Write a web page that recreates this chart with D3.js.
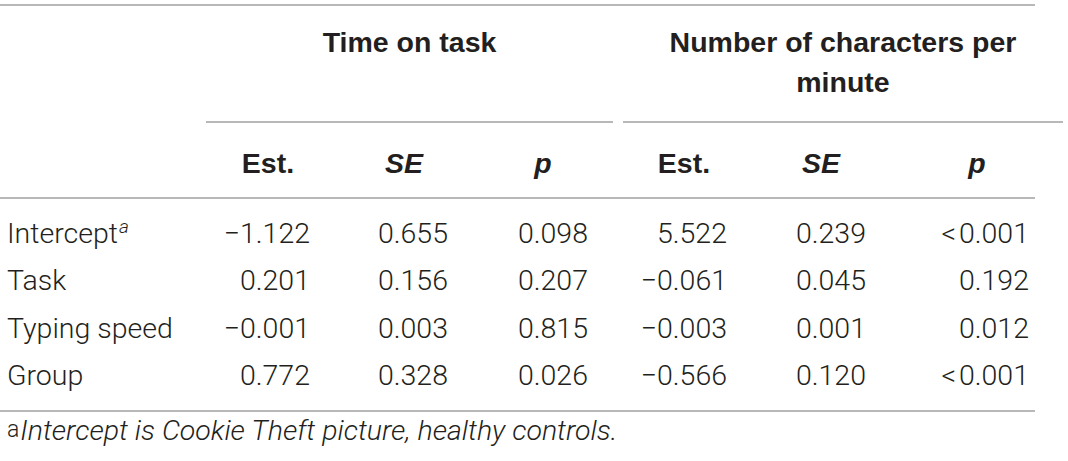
<!DOCTYPE html>
<html>
<head>
<meta charset="utf-8">
<script src="https://cdn.jsdelivr.net/npm/d3@7"></script>
<style>
    html, body { margin: 0; padding: 0; background: #fff; }
    svg { display: block; }
</style>
</head>
<body>
<svg id="tbl"></svg>
<script>
    // table content
    var predictors = ["Intercept", "Task", "Typing speed", "Group"];
    var groups = ["Time on task", "Number of characters per minute"];
    var stats = ["Est.", "SE", "p"];
    var timeEst = [-1.122, 0.201, -0.001, 0.772];
    var timeSE = [0.655, 0.156, 0.003, 0.328];
    var timeP = ["0.098", "0.207", "0.815", "0.026"];
    var cpmEst = [5.522, -0.061, -0.003, -0.566];
    var cpmSE = [0.239, 0.045, 0.001, 0.120];
    var cpmP = ["<0.001", "0.192", "0.012", "<0.001"];
    var noteMark = "a";
    var footnote = "Intercept is Cookie Theft picture, healthy controls.";

    var width = 1068, height = 461;
    var lightFont = "Roboto, 'Liberation Sans', Arial, sans-serif";
    var boldFont = "'Liberation Sans', Arial, sans-serif";
    var ink = "#231f20";
    var ruleColor = "#a0a0a0";
    var fontSize = 28.5;

    var fmt = d3.format(".3f");
    function pLabel(s) {
        // small gap after the "<" sign, like the typeset original
        return s.charAt(0) === "<" ? "<\u200a" + s.slice(1) : s;
    }

    var columns = [
        { group: 0, stat: 0, values: timeEst.map(fmt) },
        { group: 0, stat: 1, values: timeSE.map(fmt) },
        { group: 0, stat: 2, values: timeP.map(pLabel) },
        { group: 1, stat: 0, values: cpmEst.map(fmt) },
        { group: 1, stat: 1, values: cpmSE.map(fmt) },
        { group: 1, stat: 2, values: cpmP.map(pLabel) }
    ];

    // layout
    var headX = d3.scaleOrdinal().domain(d3.range(6)).range([268, 404, 543, 684, 821, 977]);
    var cellRight = d3.scaleOrdinal().domain(d3.range(6)).range([310, 448, 588, 727, 866, 1029]);
    var y = d3.scalePoint().domain(predictors).range([243, 385]);
    var groupSpan = [[206, 613], [623, 1063]];
    var tableRight = 1035;

    var svg = d3.select("#tbl").attr("width", width).attr("height", height);
    svg.append("rect").attr("width", width).attr("height", height).attr("fill", "#fff");

    // horizontal rules
    var rules = [
        { x1: 0, x2: tableRight, y: 5 },
        { x1: groupSpan[0][0], x2: groupSpan[0][1], y: 122 },
        { x1: groupSpan[1][0], x2: groupSpan[1][1], y: 122 },
        { x1: 0, x2: tableRight, y: 198 },
        { x1: 0, x2: tableRight, y: 411 }
    ];
    svg.append("g")
        .selectAll("line")
        .data(rules)
        .enter().append("line")
        .attr("x1", function (d) { return d.x1; })
        .attr("x2", function (d) { return d.x2; })
        .attr("y1", function (d) { return d.y; })
        .attr("y2", function (d) { return d.y; })
        .attr("stroke", ruleColor)
        .attr("stroke-width", 1.6);

    /*
     * spanning group headers, wrapped to the width of their rule
     */
    var groupHead = svg.append("g")
        .selectAll("text")
        .data(groups)
        .enter().append("text")
        .attr("x", function (d, i) { return (groupSpan[i][0] + groupSpan[i][1]) / 2; })
        .attr("y", 52)
        .attr("text-anchor", "middle")
        .attr("font-family", boldFont)
        .attr("font-weight", "bold")
        .attr("font-size", 28.5)
        .attr("fill", ink);

    groupHead.each(function (d, i) {
        var text = d3.select(this);
        var maxW = groupSpan[i][1] - groupSpan[i][0] - 60;
        var words = d.split(" ");
        var line = [];
        var tspan = text.append("tspan").attr("x", text.attr("x")).attr("dy", 0);
        words.forEach(function (w) {
            line.push(w);
            tspan.text(line.join(" "));
            if (tspan.node().getComputedTextLength() > maxW && line.length > 1) {
                line.pop();
                tspan.text(line.join(" "));
                line = [w];
                tspan = text.append("tspan").attr("x", text.attr("x")).attr("dy", 40).text(w);
            }
        });
    });

    // Est. / SE / p
    svg.append("g")
        .selectAll("text")
        .data(columns)
        .enter().append("text")
        .attr("x", function (d, i) { return headX(i); })
        .attr("y", 173)
        .attr("text-anchor", "middle")
        .attr("font-family", boldFont)
        .attr("font-weight", "bold")
        .attr("font-style", function (d) { return d.stat === 0 ? "normal" : "italic"; })
        .attr("font-size", 28.5)
        .attr("fill", ink)
        .text(function (d) { return stats[d.stat]; });

    // predictor labels
    var labels = svg.append("g")
        .selectAll("text")
        .data(predictors)
        .enter().append("text")
        .attr("x", 7)
        .attr("y", function (d) { return y(d); })
        .attr("font-family", lightFont)
        .attr("font-weight", 300)
        .attr("font-size", fontSize)
        .attr("fill", ink)
        .text(function (d) { return d; });

    labels.filter(function (d, i) { return i === 0; })
        .append("tspan")
        .attr("dy", -10)
        .attr("dx", 1)
        .attr("font-size", 19)
        .attr("font-style", "italic")
        .text(noteMark);

    // numeric cells
    var cols = svg.append("g")
        .selectAll("g")
        .data(columns)
        .enter().append("g");

    cols.selectAll("text")
        .data(function (d, i) {
            return d.values.map(function (v, r) { return { col: i, row: predictors[r], v: v }; });
        })
        .enter().append("text")
        .attr("x", function (d) { return cellRight(d.col); })
        .attr("y", function (d) { return y(d.row); })
        .attr("text-anchor", "end")
        .attr("font-family", lightFont)
        .attr("font-weight", 300)
        .attr("font-size", fontSize)
        .attr("fill", ink)
        .text(function (d) { return d.v; });

    // footnote
    var note = svg.append("text")
        .attr("x", 7)
        .attr("y", 440)
        .attr("font-family", lightFont)
        .attr("font-weight", 300)
        .attr("fill", ink);
    note.append("tspan")
        .attr("dy", -3)
        .attr("font-size", 23)
        .text(noteMark);
    note.append("tspan")
        .attr("dy", 3)
        .attr("dx", 1)
        .attr("font-size", fontSize)
        .attr("font-style", "italic")
        .text(footnote);
</script>
</body>
</html>
